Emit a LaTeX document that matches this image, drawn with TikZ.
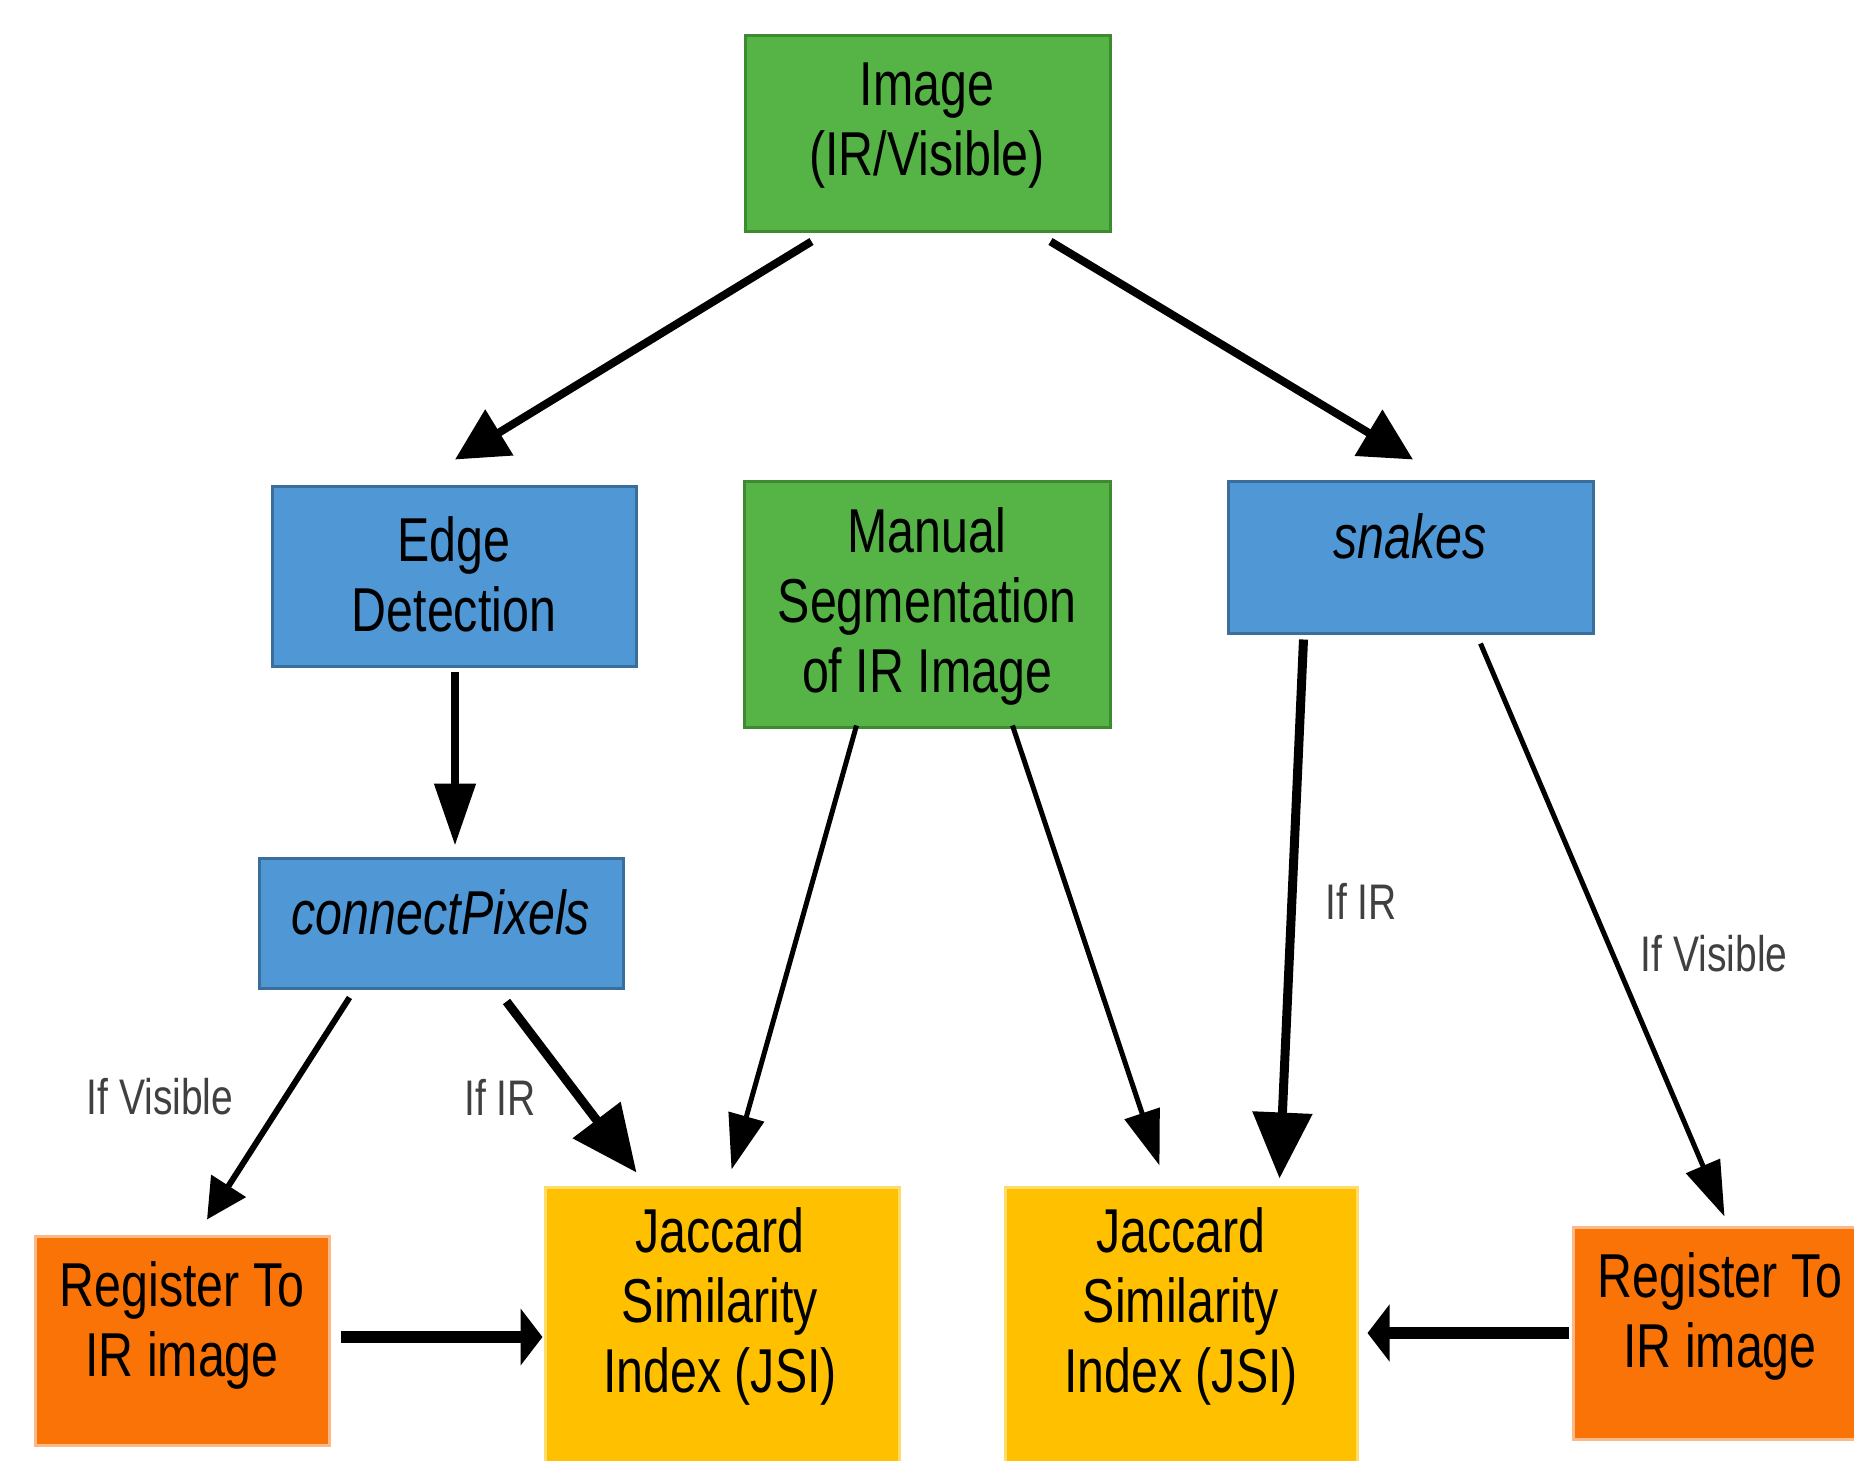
\documentclass[tikz,border=0pt]{standalone}
\usepackage{fontspec}
\setmainfont{Liberation Sans}[FakeStretch=0.78]
\usetikzlibrary{arrows.meta,calc}
\definecolor{grn}{HTML}{56B447}
\definecolor{grnD}{HTML}{3E8A30}
\definecolor{blu}{HTML}{4F97D5}
\definecolor{bluD}{HTML}{3C6E9C}
\definecolor{org}{HTML}{F97306}
\definecolor{orgD}{HTML}{FBB98A}
\definecolor{yel}{HTML}{FFC000}
\definecolor{yelD}{HTML}{FFDB6A}
\definecolor{lbl}{HTML}{404040}
\begin{document}
\begin{tikzpicture}[x=1pt,y=-1pt,
  box/.style={rectangle, draw, line width=3pt, inner sep=0pt},
  gbox/.style={box, fill=grn, draw=grnD},
  bbox/.style={box, fill=blu, draw=bluD},
  obox/.style={box, fill=org, draw=orgD},
  ybox/.style={box, fill=yel, draw=yelD},
  txt/.style={align=center, inner sep=0pt, font=\fontsize{62}{70}\selectfont},
  lab/.style={inner sep=0pt, text=lbl, font=\fontsize{50}{56}\selectfont},
  arrA/.style={line width=8pt, -{Triangle[length=52pt, width=52pt]}},
  arrB/.style={line width=8pt, -{Triangle[length=62pt, width=40pt]}},
  arrC/.style={line width=5pt, -{Triangle[length=55pt, width=36pt]}},
  arrD/.style={line width=9pt, -{Triangle[length=66pt, width=58pt]}},
  arrE/.style={line width=6pt, -{Triangle[length=40pt, width=40pt]}},
  arrF/.style={line width=12pt, -{Triangle[length=22pt, width=56pt]}}
]
\useasboundingbox (0,0) rectangle (1854,1460);
\fill[white] (0,0) rectangle (1854,1460);
\clip (0,0) rectangle (1854,1460);

% boxes
\node[gbox, minimum width=365pt, minimum height=196pt] (img) at (927.5,133) {};
\node[bbox, minimum width=364pt, minimum height=180pt] (edge) at (454,576) {};
\node[gbox, minimum width=366pt, minimum height=246pt] (man) at (927,604) {};
\node[bbox, minimum width=365pt, minimum height=152pt] (snk) at (1410.5,557) {};
\node[bbox, minimum width=364pt, minimum height=130pt] (cp) at (441,923) {};
\node[obox, minimum width=294pt, minimum height=209pt] (regL) at (182,1340.5) {};
\node[ybox, minimum width=354pt, minimum height=282pt] (jsiL) at (722,1328) {};
\node[ybox, minimum width=352pt, minimum height=282pt] (jsiR) at (1181,1328) {};
\node[obox, minimum width=287pt, minimum height=212pt] (regR) at (1716.5,1333) {};

% texts
\node[txt] (imgT) at (927,126) {Image\\(IR/Visible)};
\node[txt] (edgeT) at (454,574) {Edge\\Detection};
\node[txt] (manT) at (927,606) {Manual\\Segmentation\\of IR Image};
\node[txt] (snkT) at (1410,536) {\itshape snakes};
\node[txt] (cpT) at (441,912) {\itshape connectPixels};
\node[txt] (regLT) at (182,1325) {Register To\\IR image};
\node[txt] (jsiLT) at (720,1306) {Jaccard\\Similarity\\Index (JSI)};
\node[txt] (jsiRT) at (1181,1306) {Jaccard\\Similarity\\Index (JSI)};
\node[txt] (regRT) at (1720,1316) {Register To\\IR image};

% labels
\node[lab] (l1) at (160,1097) {If Visible};
\node[lab] (l2) at (500,1097) {If IR};
\node[lab] (l3) at (1361,901) {If IR};
\node[lab] (l4) at (1714,954) {If Visible};

% connectors
\draw[arrA] ($(img.south west)+(68,9)$) -- ($(edge.north)+(1,-25)$);
\draw[arrA] ($(img.south west)+(307,9)$) -- ($(snk.north)+(2.5,-20)$);
\draw[arrB] ($(edge.south)+(1,4)$) -- ($(cp.north)+(14,-11)$);
\draw[arrE] ($(cp.south west)+(92,8)$) -- ($(regL.north)+(25,-15)$);
\draw[arrD] ($(cp.south west)+(249,12)$) -- ($(jsiL.north west)+(93,-13)$);
\draw[arrC] ($(man.south west)+(114,-3)$) -- ($(jsiL.north west)+(188,-16)$);
\draw[arrC] ($(man.south west)+(270,-3)$) -- ($(jsiR.north west)+(156,-20)$);
\draw[arrD] ($(snk.south west)+(77,5)$) -- ($(jsiR.north west)+(276,-7)$);
\draw[arrC] ($(snk.south west)+(254,9)$) -- ($(regR.north west)+(153,-9)$);
\draw[arrF] ($(regL.east)+(10,-3.5)$) -- ($(jsiL.west)+(-1,9)$);
\draw[arrF] ($(regR.west)+(-3,0)$) -- ($(jsiR.east)+(9,5)$);
\end{tikzpicture}
\end{document}
